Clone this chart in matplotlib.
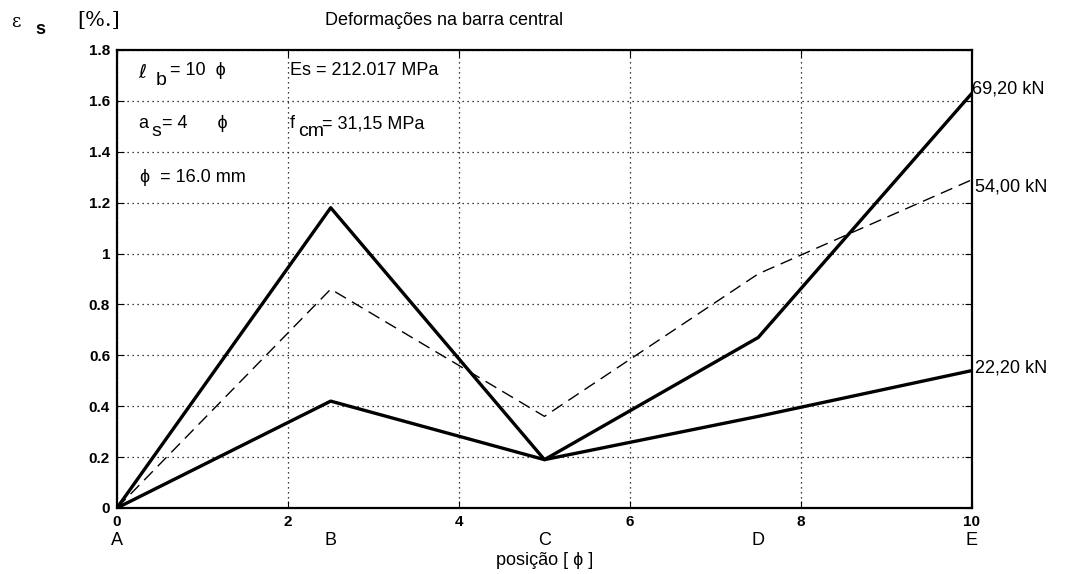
import numpy as np
import matplotlib.pyplot as plt
from matplotlib.transforms import blended_transform_factory

plt.rcParams['font.family'] = ['Liberation Sans', 'DejaVu Sans']

# posições das secções de leitura (em diâmetros)
pos = [0, 2.5, 5, 7.5, 10]
secoes = ['A', 'B', 'C', 'D', 'E']

# deformações [%.] para cada carga
eps_6920 = [0, 1.18, 0.19, 0.67, 1.63]
eps_5400 = [0, 0.86, 0.36, 0.92, 1.29]
eps_2220 = [0, 0.42, 0.19, 0.36, 0.54]

xticks = [0, 2, 4, 6, 8, 10]
yticks = [0, 0.2, 0.4, 0.6, 0.8, 1, 1.2, 1.4, 1.6, 1.8]
ytick_labels = ['0', '0.2', '0.4', '0.6', '0.8', '1', '1.2', '1.4', '1.6', '1.8']

PHI = '\u03d5'

fig = plt.figure(figsize=(10.76, 5.74), dpi=100)
ax = fig.add_axes([0.1087, 0.115, 0.7946, 0.798])

ax.plot(pos, eps_6920, color='black', lw=2.4)
ax.plot(pos, eps_5400, color='black', lw=1.0, ls=(0, (9, 5)))
ax.plot(pos, eps_2220, color='black', lw=2.4)

ax.set_xlim(0, 10)
ax.set_ylim(0, 1.8)
ax.set_xticks(xticks)
ax.set_yticks(yticks)
ax.set_yticklabels(ytick_labels)
ax.grid(True, color='black', ls=(0, (1, 3)), lw=0.9)
ax.tick_params(direction='in', top=True, right=True, length=5,
               labelsize=11, pad=5)
for lab in ax.get_xticklabels() + ax.get_yticklabels():
    lab.set_fontweight('bold')
for s in ax.spines.values():
    s.set_linewidth(1.6)

# letras das secções por baixo dos números
tr = blended_transform_factory(ax.transData, ax.transAxes)
for p, s in zip(pos, secoes):
    ax.text(p, -0.072, s, transform=tr, ha='center', va='center', fontsize=13)
ax.text(5, -0.115, 'posição [ ' + PHI + ' ]', transform=tr, ha='center',
        va='center', fontsize=13)

# parâmetros do ensaio
ax.text(0.25, 1.71, r'$\ell$', fontsize=14, va='center')
ax.text(0.45, 1.68, 'b', fontsize=14, va='center')
ax.text(0.62, 1.72, '= 10  ' + PHI, fontsize=13, va='center')
ax.text(0.25, 1.51, 'a', fontsize=13, va='center')
ax.text(0.40, 1.48, 's', fontsize=14, va='center')
ax.text(0.53, 1.51, '= 4      ' + PHI, fontsize=13, va='center')
ax.text(0.27, 1.30, PHI + '  = 16.0 mm', fontsize=13, va='center')
ax.text(2.02, 1.72, 'Es = 212.017 MPa', fontsize=13, va='center')
ax.text(2.02, 1.51, 'f', fontsize=13, va='center')
ax.text(2.12, 1.48, 'cm', fontsize=14, va='center')
ax.text(2.40, 1.51, '= 31,15 MPa', fontsize=13, va='center')

# cargas
ax.text(10.0, 1.645, '69,20 kN', fontsize=13, va='center')
ax.text(10.04, 1.26, '54,00 kN', fontsize=13, va='center')
ax.text(10.04, 0.55, '22,20 kN', fontsize=13, va='center')

fig.text(0.302, 0.965, 'Deformações na barra central', fontsize=13, va='center')
fig.text(0.01, 0.962, 'ε', fontsize=13, va='center', family='DejaVu Serif')
fig.text(0.033, 0.948, 's', fontsize=13, va='center', fontweight='bold')
fig.text(0.072, 0.965, '[%.]', fontsize=15, va='center', family='DejaVu Serif')

fig.savefig('out.png', dpi=100)
